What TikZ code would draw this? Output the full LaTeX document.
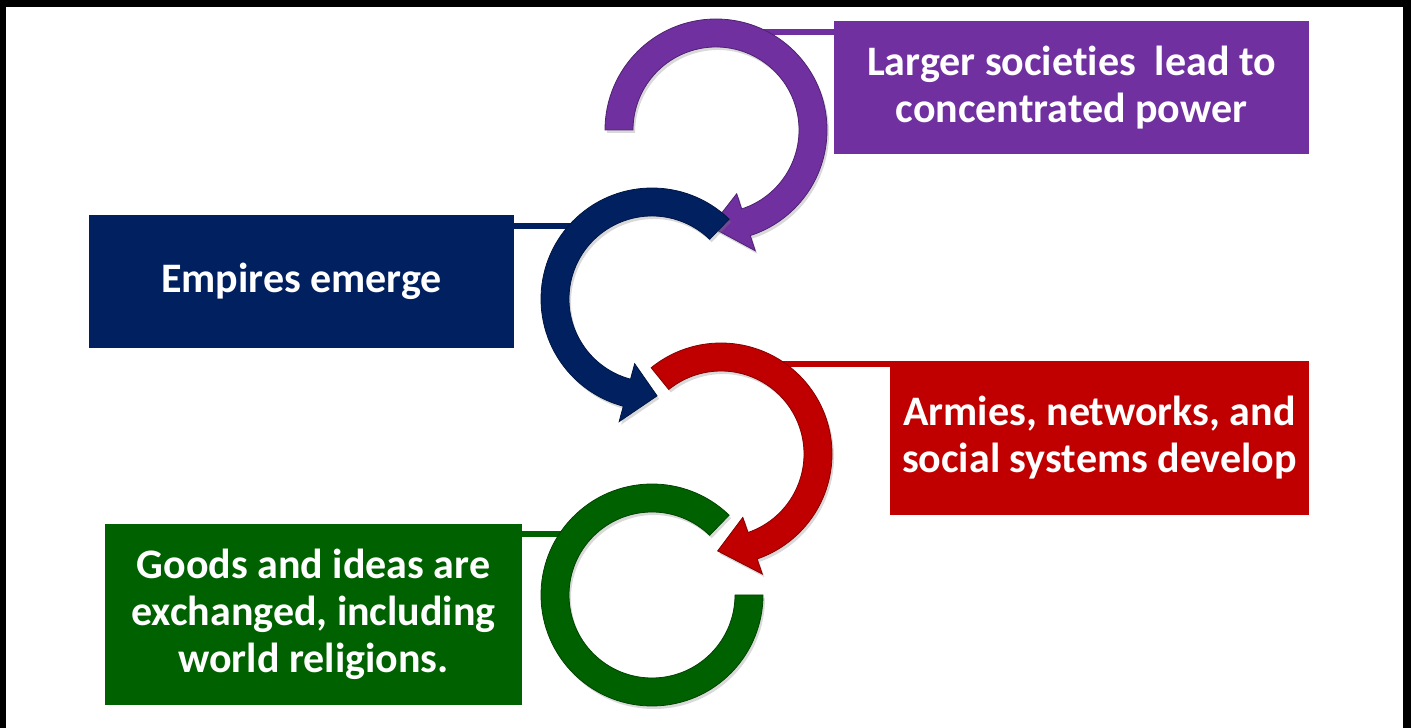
\documentclass[tikz,border=0pt]{standalone}
\usepackage{fontspec}
\setmainfont{Carlito}[Ligatures=NoCommon]
\usetikzlibrary{shadows}
\definecolor{purp}{HTML}{7030A0}
\definecolor{navy}{HTML}{002060}
\definecolor{crimson}{HTML}{C00000}
\definecolor{forest}{HTML}{006100}
\begin{document}
\begin{tikzpicture}[x=1pt, y=1pt,
  box/.style={inner sep=0pt, align=center, text=white,
    font=\bfseries\fontsize{42}{47}\selectfont},
  link/.style={line width=6.5pt},
  ring/.style={fill=#1, draw=#1!70!black, line width=0.8pt,
    drop shadow={shadow xshift=2pt, shadow yshift=-3pt, opacity=0.3}},
] % {{{
\pgfmathsetmacro{\rout}{111}
\pgfmathsetmacro{\rin}{83}
\pgfmathsetmacro{\rmid}{97}
\pgfmathsetmacro{\rhout}{127}
\pgfmathsetmacro{\rhin}{67}
\useasboundingbox (0,0) rectangle (1411,728);
% Frame {{{
\fill[black] (0,721) rectangle (1411,728);
\fill[black] (0,0) rectangle (6,728);
\fill[black] (1403,0) rectangle (1411,728);
% }}}
% Boxes {{{
\node[box, fill=purp, minimum width=475pt, minimum height=133pt] (power) at (1071.5,640.5)
  {Larger societies\ \ lead to\\concentrated power};
\node[box, fill=navy, minimum width=425pt, minimum height=133pt] (empires) at (301.5,446.5)
  {Empires emerge};
\node[box, fill=crimson, minimum width=419pt, minimum height=154pt] (armies) at (1099.5,290)
  {Armies, networks, and\\social systems develop};
\node[box, fill=forest, minimum width=417pt, minimum height=181pt] (goods) at (313.5,113.5)
  {Goods and ideas are\\exchanged, including\\world religions.};
% }}}
% Links to the rings {{{
\coordinate (power-end) at (760,696);
\coordinate (empires-end) at (575,502);
\coordinate (armies-end) at (780,364);
\coordinate (goods-end) at (566,194);
\draw[link, purp] (power-end -| power.west) -- (power-end);
\draw[link, navy] (empires-end -| empires.east) -- (empires-end);
\draw[link, crimson] (armies-end -| armies.west) -- (armies-end);
\draw[link, forest] (goods-end -| goods.east) -- (goods-end);
% }}}
\begin{scope}[shift={(716,598)}] % Purple, clockwise {{{
\filldraw[ring=purp] (180:\rout) arc[start angle=180, end angle=-72, radius=\rout]
  -- (-72:\rhout) -- (-93:\rmid) -- (-72:\rhin) -- (-72:\rin)
  arc[start angle=-72, end angle=180, radius=\rin] -- cycle;
\end{scope} % }}}
\begin{scope}[shift={(652,429)}] % Navy, counterclockwise {{{
\filldraw[ring=navy] (46:\rout) arc[start angle=46, end angle=255, radius=\rout]
  -- (255:\rhout) -- (273:\rmid) -- (255:\rhin) -- (255:\rin)
  arc[start angle=255, end angle=46, radius=\rin] -- cycle;
\end{scope} % }}}
\begin{scope}[shift={(721,274)}] % Red, clockwise {{{
\filldraw[ring=crimson] (129:\rout) arc[start angle=129, end angle=-71, radius=\rout]
  -- (-71:\rhout) -- (-92:\rmid) -- (-71:\rhin) -- (-71:\rin)
  arc[start angle=-71, end angle=129, radius=\rin] -- cycle;
\end{scope} % }}}
\begin{scope}[shift={(652,133)}] % Green, no head {{{
\filldraw[ring=forest] (46:\rout) arc[start angle=46, end angle=360, radius=\rout]
  -- (0:\rin) arc[start angle=360, end angle=46, radius=\rin] -- cycle;
\end{scope} % }}}
\end{tikzpicture} % }}}
\end{document}
